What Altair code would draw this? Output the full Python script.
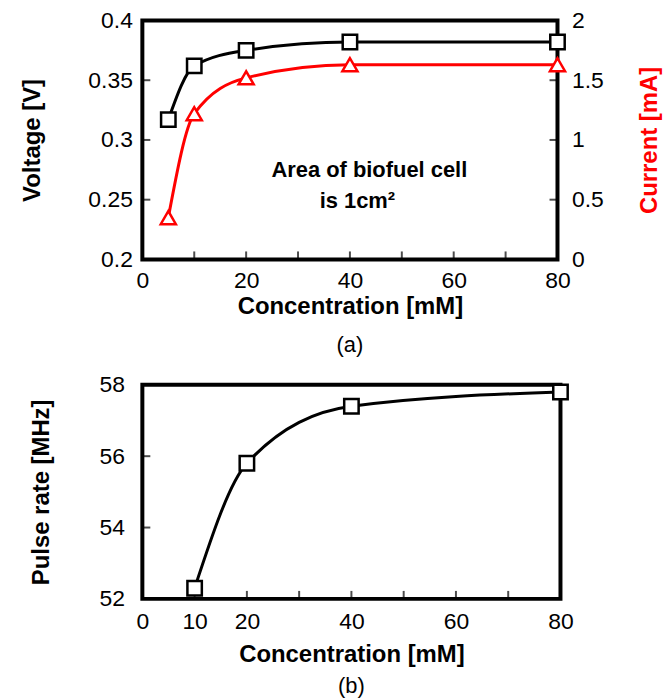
import altair as alt
import pandas as pd

# ---- data ----
conc_a = [5, 10, 20, 40, 80]
voltage = [0.317, 0.362, 0.375, 0.382, 0.382]
current = [0.35, 1.22, 1.52, 1.63, 1.63]

conc_b = [10, 20, 40, 80]
pulse = [52.3, 55.8, 57.4, 57.8]

x_labels_a = [0, 20, 40, 60, 80]
x_ticks_a = [10, 20, 30, 40, 50, 60, 70]
v_labels = [0.2, 0.25, 0.3, 0.35, 0.4]
v_ticks = [0.25, 0.3, 0.35]
i_labels = [0, 0.5, 1, 1.5, 2]

x_labels_b = [0, 10, 20, 40, 60, 80]
x_ticks_b = [10, 20, 30, 40, 50, 60, 70]
p_labels = [52, 54, 56, 58]
p_ticks = [54, 56]

FONT = "Liberation Sans"
RED = "#FF0000"
W_A, H_A = 417, 240
W_B, H_B = 420, 215
LBL = 23
TTL = 24

df_a = pd.DataFrame({"c": conc_a, "v": voltage, "i": current})
df_b = pd.DataFrame({"c": conc_b, "p": pulse})

# ---------------- panel (a) ----------------
xa_scale = alt.Scale(domain=[0, 80], nice=False, padding=0)
xa_axis = alt.Axis(values=x_labels_a, title="Concentration  [mM]",
                   labelPadding=10, titlePadding=2, labelFlush=False)
xa = alt.X("c:Q", scale=xa_scale, axis=xa_axis)
ya_axis = alt.Axis(values=v_labels, format="~g", title="Voltage  [V]",
                   labelPadding=10, titlePadding=44)
ya_scale = alt.Scale(domain=[0.2, 0.4], nice=False, zero=False, padding=0)

v_line = alt.Chart(df_a).mark_line(color="black", strokeWidth=3, interpolate="monotone").encode(
    x=xa, y=alt.Y("v:Q", scale=ya_scale, axis=ya_axis))
v_pts = alt.Chart(df_a).mark_point(shape="square", filled=True, fill="white", stroke="black",
                                   strokeWidth=2.5, size=210, opacity=1).encode(
    x=xa, y=alt.Y("v:Q", scale=ya_scale, axis=ya_axis))

xt_a = alt.Chart(pd.DataFrame({"t": x_ticks_a})).mark_tick(color="black", thickness=2).encode(
    x=alt.X("t:Q", scale=xa_scale, axis=xa_axis),
    y=alt.value(H_A - 4), size=alt.value(8))
yt_left = alt.Chart(pd.DataFrame({"t": v_ticks})).mark_tick(color="black", thickness=2).encode(
    y=alt.Y("t:Q", scale=ya_scale, axis=ya_axis), x=alt.value(4), size=alt.value(8))
yt_right = alt.Chart(pd.DataFrame({"t": v_ticks})).mark_tick(color="black", thickness=2).encode(
    y=alt.Y("t:Q", scale=ya_scale, axis=ya_axis), x=alt.value(W_A - 4), size=alt.value(8))

anno1 = alt.Chart(pd.DataFrame({"t": ["Area of biofuel cell"]})).mark_text(
    font=FONT, fontSize=22, fontWeight="bold", color="black", align="center", baseline="middle").encode(
    text="t:N", x=alt.value(228), y=alt.value(150))
anno2 = alt.Chart(pd.DataFrame({"t": ["is 1cm²"]})).mark_text(
    font=FONT, fontSize=22, fontWeight="bold", color="black", align="center", baseline="middle").encode(
    text="t:N", x=alt.value(216), y=alt.value(181))

yi_axis = alt.Axis(values=i_labels, format="~g", title="Current  [mA]", orient="right",
                   titleColor=RED, labelPadding=14, titlePadding=58, titleAngle=270)
yi_scale = alt.Scale(domain=[0, 2], nice=False, padding=0)
i_line = alt.Chart(df_a).mark_line(color=RED, strokeWidth=3, interpolate="monotone").encode(
    x=xa, y=alt.Y("i:Q", scale=yi_scale, axis=yi_axis))
i_pts = alt.Chart(df_a).mark_point(shape="triangle-up", filled=True, fill="white", stroke=RED,
                                   strokeWidth=2.5, size=230, opacity=1).encode(
    x=xa, y=alt.Y("i:Q", scale=yi_scale, axis=yi_axis))

left_group = alt.layer(xt_a, yt_left, yt_right, v_line, v_pts, anno1, anno2)
right_group = alt.layer(i_line, i_pts)

panel_a = alt.layer(left_group, right_group).resolve_scale(y="independent").properties(
    width=W_A, height=H_A,
    title=alt.TitleParams("(a)", orient="bottom", fontSize=22, fontWeight="normal",
                          font=FONT, color="black", offset=17))

# ---------------- panel (b) ----------------
xb_scale = alt.Scale(domain=[0, 80], nice=False, padding=0)
xb_axis = alt.Axis(values=x_labels_b, title="Concentration [mM]",
                   labelPadding=12, titlePadding=9, labelFlush=False)
xb = alt.X("c:Q", scale=xb_scale, axis=xb_axis)
yb_axis = alt.Axis(values=p_labels, format="d", title="Pulse rate [MHz]",
                   labelPadding=18, titlePadding=46)
yb_scale = alt.Scale(domain=[52, 58], nice=False, zero=False, padding=0)

p_line = alt.Chart(df_b).mark_line(color="black", strokeWidth=3, interpolate="monotone").encode(
    x=xb, y=alt.Y("p:Q", scale=yb_scale, axis=yb_axis))
p_pts = alt.Chart(df_b).mark_point(shape="square", filled=True, fill="white", stroke="black",
                                   strokeWidth=2.5, size=210, opacity=1).encode(
    x=xb, y=alt.Y("p:Q", scale=yb_scale, axis=yb_axis))
xt_b = alt.Chart(pd.DataFrame({"t": x_ticks_b})).mark_tick(color="black", thickness=2).encode(
    x=alt.X("t:Q", scale=xb_scale, axis=xb_axis),
    y=alt.value(H_B - 4), size=alt.value(8))
yt_b = alt.Chart(pd.DataFrame({"t": p_ticks})).mark_tick(color="black", thickness=2).encode(
    y=alt.Y("t:Q", scale=yb_scale, axis=yb_axis), x=alt.value(4), size=alt.value(8))

panel_b = alt.layer(xt_b, yt_b, p_line, p_pts).properties(
    width=W_B, height=H_B,
    title=alt.TitleParams("(b)", orient="bottom", fontSize=22, fontWeight="normal",
                          font=FONT, color="black", offset=10))

chart = alt.vconcat(panel_a, panel_b, spacing=14).properties(
    padding={"left": 18, "top": 6, "right": 2, "bottom": 0},
    background="white",
).configure_view(
    stroke="black", strokeWidth=4
).configure_axis(
    labelFont=FONT, titleFont=FONT, labelFontSize=LBL, titleFontSize=TTL,
    titleFontWeight="bold", labelColor="black", titleColor="black",
    tickSize=0, domain=False, grid=False,
).configure_title(anchor="middle")

chart.save("out.html", embed_options={"renderer": "svg", "actions": False})
